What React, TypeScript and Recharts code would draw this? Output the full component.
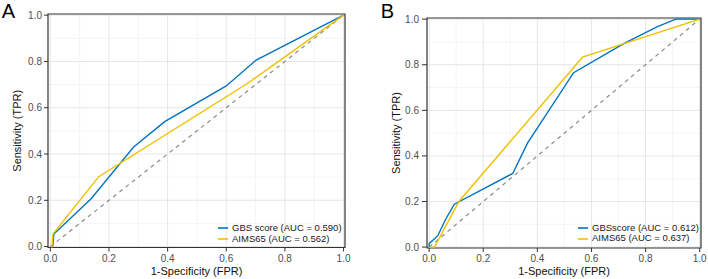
import {
  LineChart,
  Line,
  XAxis,
  YAxis,
  CartesianGrid,
  ReferenceLine,
  ReferenceArea,
  Legend,
} from "recharts";

// ROC points (false positive rate / true positive rate) for each score
const gbsFprA = [0, 0.008, 0.012, 0.139, 0.284, 0.39, 0.6, 0.702, 1];
const gbsTprA = [0, 0, 0.054, 0.207, 0.43, 0.54, 0.694, 0.806, 1];
const aimsFprA = [0, 0.006, 0.009, 0.165, 0.676, 1];
const aimsTprA = [0, 0, 0.054, 0.302, 0.708, 1];

const gbsFprB = [0, 0, 0.032, 0.06, 0.093, 0.309, 0.364, 0.395, 0.534, 0.721, 0.844, 0.912, 1];
const gbsTprB = [0, 0.015, 0.05, 0.12, 0.188, 0.323, 0.457, 0.513, 0.765, 0.894, 0.967, 1, 1];
const aimsFprB = [0, 0.02, 0.11, 0.567, 1];
const aimsTprB = [0, 0, 0.2, 0.833, 1];

const gbsNameA = "GBS score (AUC = 0.590)";
const aimsNameA = "AIMS65 (AUC = 0.562)";
const gbsNameB = "GBSscore (AUC = 0.612)";
const aimsNameB = "AIMS65 (AUC = 0.637)";

const majorTicks = [0, 0.2, 0.4, 0.6, 0.8, 1.0];
const minorTicks = [0.1, 0.3, 0.5, 0.7, 0.9];

const BLUE = "#0073C2";
const YELLOW = "#EFC000";
const FONT = "'Liberation Sans', Arial, Helvetica, sans-serif";
const X_DOMAIN: [number, number] = [-0.008, 1.005];
const Y_DOMAIN: [number, number] = [-0.004, 1.005];

const toPoints = (fpr: number[], tpr: number[]) =>
  fpr.map((x, i) => ({ fpr: x, tpr: tpr[i] }));

type PanelProps = {
  letter: string;
  letterX: number;
  gbs: { fpr: number; tpr: number }[];
  aims: { fpr: number; tpr: number }[];
  gbsName: string;
  aimsName: string;
  margin: { top: number; right: number; left: number; bottom: number };
  xAxisHeight: number;
  yTickSize: number;
  yTickMargin: number;
  legendPos: { left: number; top: number };
};

const PANEL_W = 354;
const PANEL_H = 279;

// legend kept in series order (GBS first), left aligned, no wrapping
function RocLegend({ payload, order }: { payload?: any[]; order: string[] }) {
  return (
    <ul
      style={{
        margin: 0,
        padding: 0,
        listStyle: "none",
        textAlign: "left",
        whiteSpace: "nowrap",
        fontFamily: FONT,
        fontSize: 9.5,
        lineHeight: "10.7px",
        color: "#1a1a1a",
      }}
    >
      {order.map((name) => {
        const entry = (payload || []).find((e) => e.value === name);
        return (
          <li key={name} style={{ display: "block", height: 10.7 }}>
            <svg
              width={10}
              height={10}
              style={{ display: "inline-block", verticalAlign: "middle", marginRight: 4 }}
            >
              <line x1={0} y1={5} x2={10} y2={5} stroke={entry?.color} strokeWidth={1.6} />
            </svg>
            <span style={{ verticalAlign: "middle" }}>{name}</span>
          </li>
        );
      })}
    </ul>
  );
}

function RocPanel(p: PanelProps) {
  const plotLeft = p.margin.left + 48;
  const plotRight = PANEL_W - p.margin.right;
  const plotTop = p.margin.top;
  const plotBottom = PANEL_H - p.margin.bottom - p.xAxisHeight;
  const yTitleX = plotLeft - 31.5;
  const yTitleY = (plotTop + plotBottom) / 2;
  return (
    <LineChart width={PANEL_W} height={PANEL_H} margin={p.margin}>
      <CartesianGrid
        horizontalValues={minorTicks}
        verticalValues={minorTicks}
        stroke="#f1f1f1"
        strokeWidth={0.7}
      />
      <CartesianGrid
        horizontalValues={majorTicks}
        verticalValues={majorTicks}
        stroke="#e6e6e6"
        strokeWidth={1}
      />
      <XAxis
        type="number"
        dataKey="fpr"
        domain={X_DOMAIN}
        ticks={majorTicks}
        tickFormatter={(v: number) => v.toFixed(1)}
        height={p.xAxisHeight}
        axisLine={false}
        tickSize={4}
        tickMargin={3}
        tickLine={{ stroke: "#333" }}
        tick={{ fontSize: 10, fill: "#4d4d4d", fontFamily: FONT }}
      />
      <YAxis
        type="number"
        domain={Y_DOMAIN}
        ticks={majorTicks}
        tickFormatter={(v: number) => v.toFixed(1)}
        width={48}
        axisLine={false}
        tickSize={p.yTickSize}
        tickMargin={p.yTickMargin}
        tickLine={{ stroke: "#333" }}
        tick={{ fontSize: 10, fill: "#4d4d4d", fontFamily: FONT }}
      />
      <ReferenceLine
        segment={[
          { x: 0, y: 0 },
          { x: 1, y: 1 },
        ]}
        stroke="#8a8a8a"
        strokeWidth={1.2}
        strokeDasharray="4 4"
      />
      <Line
        data={p.gbs}
        dataKey="tpr"
        name={p.gbsName}
        type="linear"
        stroke={BLUE}
        strokeWidth={1.4}
        dot={false}
        isAnimationActive={false}
      />
      <Line
        data={p.aims}
        dataKey="tpr"
        name={p.aimsName}
        type="linear"
        stroke={YELLOW}
        strokeWidth={1.4}
        dot={false}
        isAnimationActive={false}
      />
      <ReferenceArea
        x1={X_DOMAIN[0]}
        x2={X_DOMAIN[1]}
        y1={Y_DOMAIN[0]}
        y2={Y_DOMAIN[1]}
        fill="none"
        stroke="#333"
        strokeWidth={1.2}
      />
      <Legend
        layout="vertical"
        align="center"
        verticalAlign="middle"
        wrapperStyle={{
          left: p.legendPos.left,
          top: p.legendPos.top,
          width: "auto",
          height: "auto",
        }}
        content={(props: any) => (
          <RocLegend payload={props.payload} order={[p.gbsName, p.aimsName]} />
        )}
      />
      <text x={p.letterX} y={18.3} fontSize={20} fontFamily={FONT} fill="#000">
        {p.letter}
      </text>
      <text
        x={(plotLeft + plotRight) / 2}
        y={274.5}
        textAnchor="middle"
        fontSize={11}
        fontFamily={FONT}
        fill="#111"
      >
        1-Specificity (FPR)
      </text>
      <text
        x={yTitleX}
        y={yTitleY}
        textAnchor="middle"
        dominantBaseline="central"
        transform={`rotate(-90, ${yTitleX}, ${yTitleY})`}
        fontSize={11}
        fontFamily={FONT}
        fill="#111"
      >
        Sensitivity (TPR)
      </text>
    </LineChart>
  );
}

export default function App() {
  return (
    <div
      style={{
        position: "absolute",
        left: 0,
        top: 0,
        width: 708,
        height: 279,
        background: "#fff",
      }}
    >
      <div style={{ position: "absolute", left: 0, top: 0 }}>
        <RocPanel
          letter="A"
          letterX={1.7}
          gbs={toPoints(gbsFprA, gbsTprA)}
          aims={toPoints(aimsFprA, aimsTprA)}
          gbsName={gbsNameA}
          aimsName={aimsNameA}
          margin={{ top: 14, right: 9, left: 0, bottom: 0 }}
          xAxisHeight={31.5}
          yTickSize={4}
          yTickMargin={2}
          legendPos={{ left: 218, top: 223 }}
        />
      </div>
      <div style={{ position: "absolute", left: 354, top: 0 }}>
        <RocPanel
          letter="B"
          letterX={26.7}
          gbs={toPoints(gbsFprB, gbsTprB)}
          aims={toPoints(aimsFprB, aimsTprB)}
          gbsName={gbsNameB}
          aimsName={aimsNameB}
          margin={{ top: 18, right: 7, left: 25, bottom: 0 }}
          xAxisHeight={31}
          yTickSize={5}
          yTickMargin={3}
          legendPos={{ left: 224, top: 222.5 }}
        />
      </div>
    </div>
  );
}
